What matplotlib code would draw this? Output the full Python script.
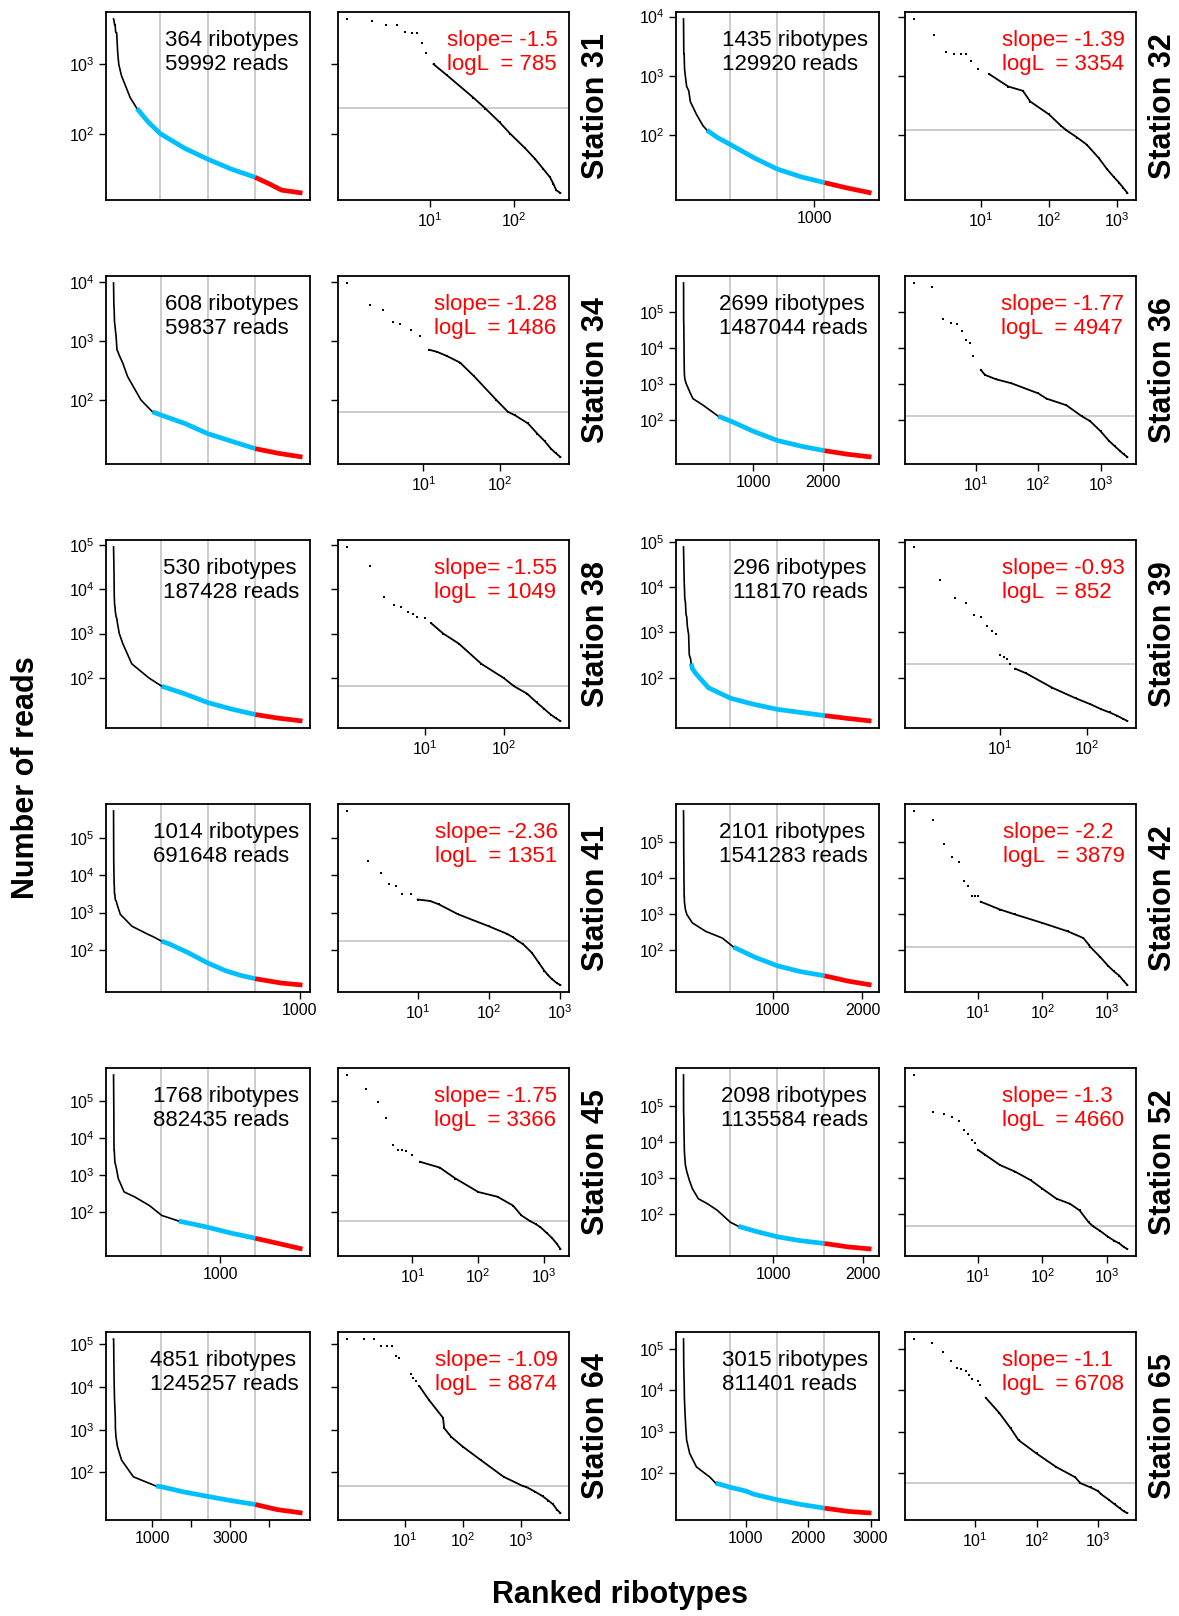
import matplotlib
matplotlib.use("Agg")
import matplotlib.pyplot as plt
import numpy as np

plt.rcParams['font.family'] = ['Liberation Sans', 'DejaVu Sans']

stations = [31, 32, 34, 36, 38, 39, 41, 42, 45, 52, 64, 65]
n_ribotypes = [364, 1435, 608, 2699, 530, 296, 1014, 2101, 1768, 2098, 4851, 3015]
total_reads = [59992, 129920, 59837, 1487044, 187428, 118170, 691648, 1541283,
               882435, 1135584, 1245257, 811401]
slopes = ['-1.5', '-1.39', '-1.28', '-1.77', '-1.55', '-0.93', '-2.36', '-2.2',
          '-1.75', '-1.3', '-1.09', '-1.1']
logL = [785, 3354, 1486, 4947, 1049, 852, 1351, 3879, 3366, 4660, 8874, 6708]
thresholds = [236, 122, 63, 130, 65, 205, 172, 119, 57, 45, 48, 56]
labelled_ticks = [[], [1000], [], [1000, 2000], [], [], [1000], [1000, 2000],
                  [1000], [1000, 2000], [1000, 3000], [1000, 2000, 3000]]
dense_from = [11, 10, 11, 12, 12, 15, 10, 11, 13, 10, 18, 15]

# rank / reads
ranks_31 = [1, 2, 3, 4, 5, 6, 7, 8, 9, 11, 16, 33, 46, 68, 91, 137, 182, 227, 273, 300, 324, 364]
reads_31 = [4470, 4170, 3690, 3690, 2920, 2830, 2830, 2000, 1450, 1000, 690, 330, 230, 146,
            100, 62, 43, 31, 23.6, 19, 15.4, 14]
ranks_32 = [1, 2, 3, 4, 5, 6, 7, 9, 13, 25, 41, 53, 100, 150, 180, 260, 359, 538, 718, 900,
            1077, 1250, 1435]
reads_32 = [9120, 4900, 2520, 2370, 2370, 2370, 1820, 1320, 1080, 665, 563, 370, 225, 145,
            122, 92, 70, 42, 27, 20, 16, 13, 10.7]
ranks_34 = [1, 2, 3, 4, 5, 7, 9, 12, 15, 20, 30, 46, 89, 126, 156, 230, 303, 380, 456, 530, 608]
reads_34 = [9600, 4070, 3400, 2100, 1950, 1510, 1230, 707, 655, 560, 430, 250, 100, 63, 55,
            40, 27, 20, 15, 12.5, 10.8]
ranks_36 = [1, 2, 3, 4, 5, 6, 7, 8, 9, 12, 14, 21, 37, 100, 136, 282, 500, 680, 1000, 1350,
            1700, 2025, 2350, 2699]
reads_36 = [646000, 490000, 66000, 49000, 46000, 30000, 16600, 14100, 6000, 2500, 1820, 1380,
            1070, 560, 400, 263, 130, 95, 50, 27.5, 19, 14.4, 11.5, 9.6]
ranks_38 = [1, 2, 3, 4, 5, 6, 7, 8, 10, 12, 17, 27, 52, 100, 136, 200, 264, 330, 398, 460, 530]
reads_38 = [89000, 34000, 6800, 4400, 4040, 3100, 2760, 2400, 2200, 1700, 1000, 590, 208, 100,
            65, 44, 28, 20, 15, 12.5, 10.7]
ranks_39 = [1, 2, 3, 4, 5, 6, 7, 8, 9, 10, 11, 12, 13, 15, 20, 40, 75, 110, 148, 185, 223, 260,
            296]
reads_39 = [78000, 14500, 5700, 4600, 2450, 2240, 1380, 1100, 910, 325, 288, 264, 205, 158, 125,
            60, 35, 26, 20, 17, 14.5, 12.5, 11]
ranks_41 = [1, 2, 3, 4, 5, 6, 8, 10, 15, 20, 37, 100, 180, 218, 258, 300, 400, 505, 600, 680,
            760, 900, 1014]
reads_41 = [525000, 24500, 11800, 5900, 5150, 3170, 3100, 2240, 2040, 1650, 900, 430, 270, 220,
            172, 145, 85, 45, 28, 21, 17, 13, 11.5]
ranks_42 = [1, 2, 3, 4, 5, 6, 7, 8, 9, 10, 11, 22, 38, 100, 250, 435, 525, 560, 800, 1050,
            1300, 1576, 1840, 2101]
reads_42 = [724000, 417000, 87000, 39000, 27000, 8300, 6000, 3150, 3150, 3150, 2180, 1320, 960,
            560, 325, 212, 140, 119, 62, 36, 25, 19, 13.5, 10.5]
ranks_45 = [1, 2, 3, 4, 5, 6, 7, 8, 10, 13, 26, 45, 100, 196, 337, 452, 612, 750, 879, 1100,
            1326, 1550, 1768]
reads_45 = [513000, 210000, 94000, 35000, 6600, 4800, 4800, 4360, 3500, 2300, 1600, 810, 350,
            260, 150, 81, 57, 47, 39, 27, 19.6, 14, 10]
ranks_52 = [1, 2, 3, 4, 5, 6, 7, 8, 9, 10, 13, 22, 38, 66, 100, 166, 269, 380, 525, 613, 800,
            1048, 1300, 1573, 1840, 2098]
reads_52 = [724000, 68000, 60000, 48000, 39000, 22000, 16300, 11500, 9100, 6000, 4350, 2270,
            1480, 860, 500, 263, 190, 124, 58, 45, 33, 23, 18, 15, 12, 10.5]
ranks_64 = [1, 2, 3, 4, 5, 6, 7, 8, 13, 14, 16, 18, 26, 46, 48, 63, 100, 206, 510, 1093, 1240,
            1800, 2410, 3000, 3638, 4200, 4851]
reads_64 = [134000, 134000, 134000, 93000, 93000, 93000, 54000, 49000, 20000, 16600, 13800,
            10500, 5100, 1900, 1100, 690, 405, 195, 79, 48, 46, 35, 27.6, 22, 17.8, 13.5, 11.2]
ranks_65 = [1, 2, 3, 4, 5, 6, 7, 8, 9, 11, 12, 15, 25, 38, 51, 100, 209, 425, 516, 758, 1000,
            1130, 1505, 1880, 2262, 2640, 3015]
reads_65 = [178000, 144000, 88000, 53000, 36000, 33000, 30000, 23600, 18600, 17000, 13300, 6600,
            2800, 1200, 620, 294, 138, 78, 56, 44, 36, 30, 22, 17, 13.8, 11.5, 10.5]

all_ranks = [ranks_31, ranks_32, ranks_34, ranks_36, ranks_38, ranks_39,
             ranks_41, ranks_42, ranks_45, ranks_52, ranks_64, ranks_65]
all_reads = [reads_31, reads_32, reads_34, reads_36, reads_38, reads_39,
             reads_41, reads_42, reads_45, reads_52, reads_64, reads_65]

W, H = 1179, 1616
fig = plt.figure(figsize=(W / 100, H / 100), dpi=100)

# (left panel x, width, right panel x, width, station label x)
cols = [(106, 204, 338, 231, 596), (676, 203, 905, 231, 1163)]
grey = '#BEBEBE'
blue = '#00BFFF'


def style_axes(ax):
    for sp in ax.spines.values():
        sp.set_linewidth(1.3)
    ax.tick_params(direction='out', length=5, width=1, labelsize=11.5, pad=3)
    ax.minorticks_off()


for i, st in enumerate(stations):
    row, col = divmod(i, 2)
    top = 12 + row * 264
    h = 188
    lx, lw, rx, rw, labx = cols[col]
    axl = fig.add_axes([lx / W, 1 - (top + h) / H, lw / W, h / H])
    axr = fig.add_axes([rx / W, 1 - (top + h) / H, rw / W, h / H])

    r = np.array(all_ranks[i], dtype=float)
    v = np.array(all_reads[i], dtype=float)
    N = n_ribotypes[i]
    thr = thresholds[i]

    lo, hi = np.log10(v.min()), np.log10(v.max())
    pad = 0.04 * (hi - lo)
    ylim = (10 ** (lo - pad), 10 ** (hi + pad))
    yt = [10.0 ** k for k in range(2, 6) if ylim[0] <= 10 ** k <= ylim[1]]

    # left panel: linear rank, log reads
    for q in (N / 4, N / 2, 3 * N / 4):
        axl.axvline(q, color=grey, lw=1.1, zorder=1)
    ib = int(np.argmax(v <= thr))
    ir = int(np.argmax(r >= 0.75 * N - 1))
    axl.plot(r[:ib + 1], v[:ib + 1], color='black', lw=1.2, zorder=3)
    axl.plot(r[ib:ir + 1], v[ib:ir + 1], color=blue, lw=3.4, zorder=3,
             solid_capstyle='butt')
    axl.plot(r[ir:], v[ir:], color='red', lw=3.4, zorder=3, solid_capstyle='butt')
    axl.set_yscale('log')
    axl.set_ylim(*ylim)
    axl.set_xlim(1 - 0.04 * (N - 1), N + 0.04 * (N - 1))
    style_axes(axl)
    axl.set_yticks(yt)
    axl.set_yticklabels([r'$\mathregular{10^{%d}}$' % round(np.log10(t)) for t in yt])
    xt = [t for t in (1000, 2000, 3000, 4000) if t <= N]
    axl.set_xticks(xt)
    axl.set_xticklabels([str(t) if t in labelled_ticks[i] else '' for t in xt])
    axl.text(0.945, 0.905, f"{N} ribotypes\n{total_reads[i]} reads",
             transform=axl.transAxes, ha='right', va='top', multialignment='left',
             fontsize=16, linespacing=1.2)

    # right panel: log-log
    axr.axhline(thr, color=grey, lw=1.1, zorder=1)
    axr.plot(r, v, 's', ms=1.6, color='black', mew=0, zorder=3)
    dense = r >= dense_from[i]
    axr.plot(r[dense], v[dense], '-', color='black', lw=1.3, zorder=3)
    axr.set_xscale('log')
    axr.set_yscale('log')
    ln = np.log10(N)
    axr.set_xlim(10 ** (-0.04 * ln), 10 ** (1.04 * ln))
    axr.set_ylim(*ylim)
    style_axes(axr)
    axr.set_yticks(yt)
    axr.set_yticklabels([])
    xr = [10.0 ** k for k in range(1, 5) if 10 ** k <= N]
    axr.set_xticks(xr)
    axr.set_xticklabels([r'$\mathregular{10^{%d}}$' % round(np.log10(t)) for t in xr])
    axr.text(0.95, 0.905, f"slope= {slopes[i]}\nlogL  = {logL[i]}",
             transform=axr.transAxes, ha='right', va='top', multialignment='left',
             fontsize=16, linespacing=1.2, color='red')

    fig.text(labx / W, 1 - (top + h / 2) / H, f"Station {st}", rotation=90,
             ha='center', va='center', fontsize=22, fontweight='bold')

fig.text(26 / W, 1 - 778 / H, "Number of reads", rotation=90, ha='center',
         va='center', fontsize=22, fontweight='bold')
fig.text(620 / W, 1 - 1595 / H, "Ranked ribotypes", ha='center', va='center',
         fontsize=22, fontweight='bold')

fig.savefig('out.png', dpi=100)
